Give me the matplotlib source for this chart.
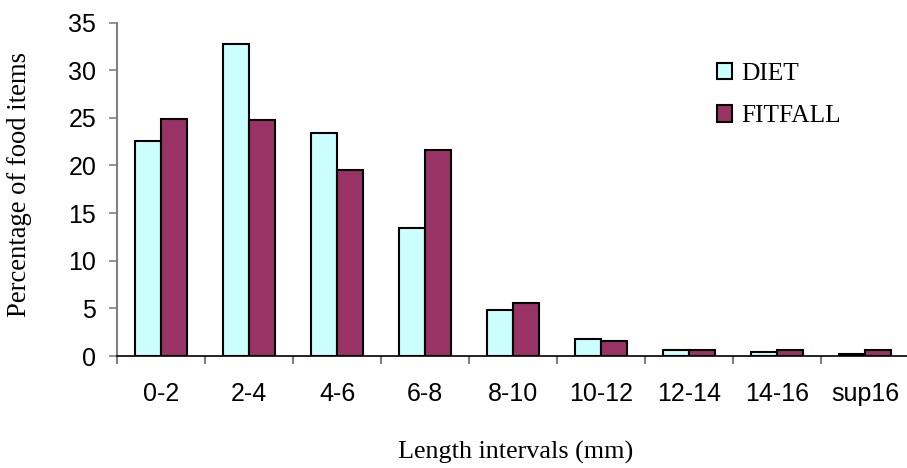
import numpy as np
import matplotlib
matplotlib.use("Agg")
import matplotlib.pyplot as plt

intervals = ['0-2', '2-4', '4-6', '6-8', '8-10', '10-12', '12-14', '14-16', 'sup16']
diet = [22.6, 32.7, 23.4, 13.4, 4.8, 1.8, 0.6, 0.4, 0.2]
fitfall = [24.9, 24.8, 19.5, 21.6, 5.6, 1.6, 0.6, 0.6, 0.6]

fig = plt.figure(figsize=(9.07, 4.68), dpi=100)
ax = fig.add_axes([117 / 907, 1 - 356 / 468, 792 / 907, 333.5 / 468])

x = np.arange(len(intervals))
w = 0.295
ax.bar(x - w / 2, diet, w, color='#CCFFFF', edgecolor='black', linewidth=1.5, label='DIET')
ax.bar(x + w / 2, fitfall, w, color='#993366', edgecolor='black', linewidth=1.5, label='FITFALL')

ax.set_xlim(-0.5, 8.5)
ax.set_ylim(0, 35)
ax.set_yticks(range(0, 36, 5))
ax.set_xticks(x)
ax.set_xticklabels(intervals)
ax.set_xticks(np.arange(-0.5, 9, 1), minor=True)

for s in ['top', 'right']:
    ax.spines[s].set_visible(False)
ax.spines['left'].set_color('#808080')
ax.spines['left'].set_linewidth(1.5)
ax.spines['bottom'].set_color('black')
ax.spines['bottom'].set_linewidth(1.2)

ax.tick_params(axis='y', direction='out', length=6, width=1.2, color='#808080', pad=9)
ax.tick_params(axis='x', which='major', length=0, pad=19)
ax.tick_params(axis='x', which='minor', direction='out', length=6, width=1.5, color='#808080')
for lab in ax.get_xticklabels() + ax.get_yticklabels():
    lab.set_fontfamily('Liberation Sans')
    lab.set_fontsize(18)

fig.text(20 / 907, 1 - 185 / 468, 'Percentage of food items', rotation=90,
         ha='center', va='center', family='Liberation Serif', fontsize=19.2)
fig.text(516 / 907, 1 - 452 / 468, 'Length intervals (mm)',
         ha='center', va='center', family='Liberation Serif', fontsize=18.8)

fig.legend(loc='upper left', bbox_to_anchor=(717 / 907, 1 - 63 / 468),
           frameon=False, borderpad=0, borderaxespad=0,
           handlelength=0.6, handleheight=0.6, handletextpad=0.35,
           labelspacing=0.8, prop=dict(family='Liberation Serif', size=18.3))

fig.savefig('out.png', dpi=100)
